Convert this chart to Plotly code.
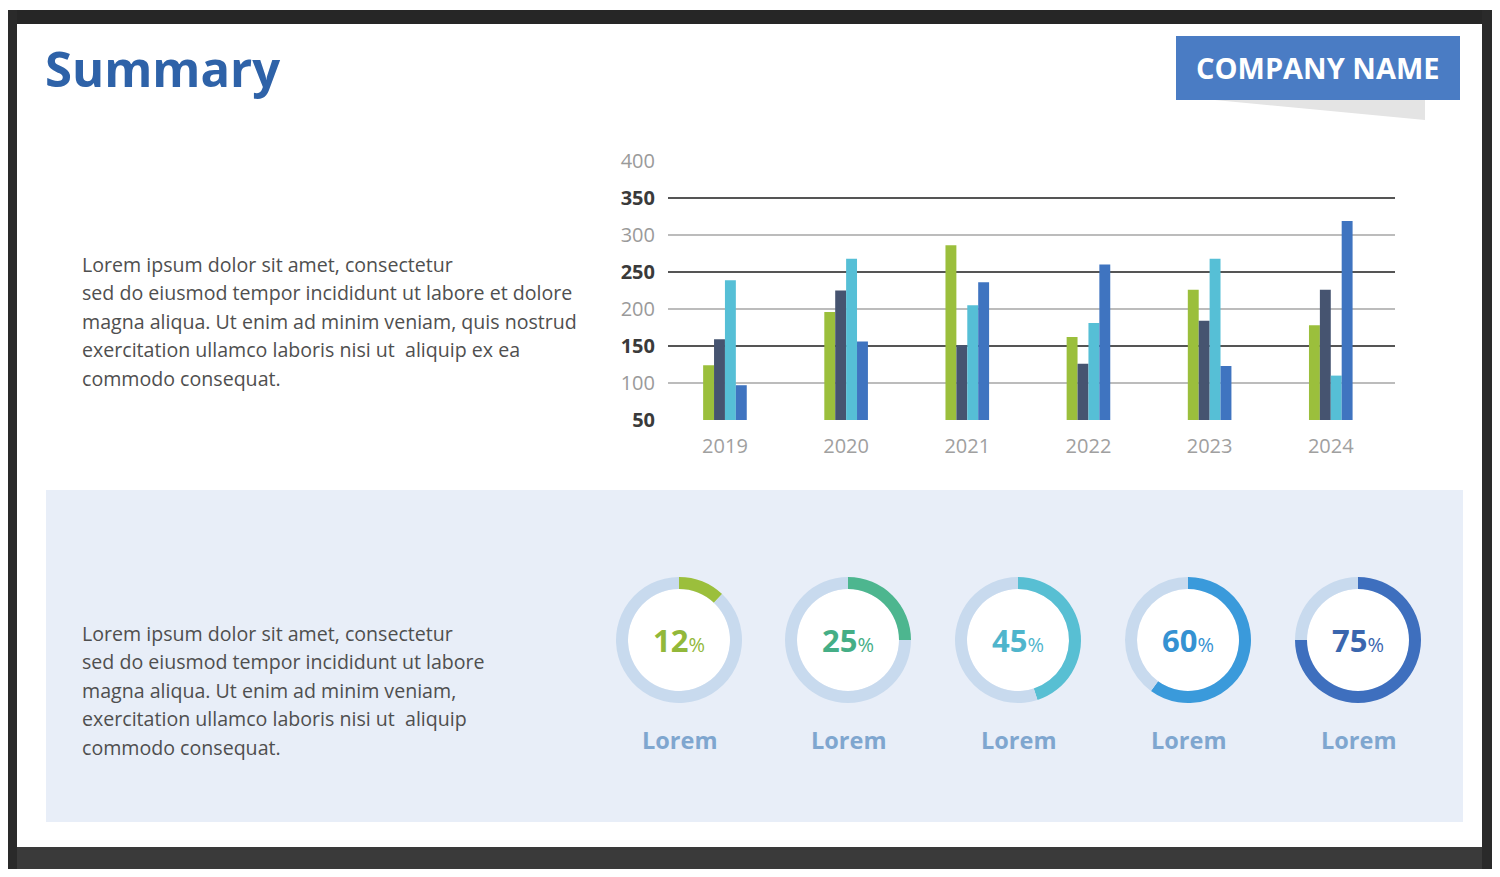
import plotly.graph_objects as go

# bar chart data
years = ["2019", "2020", "2021", "2022", "2023", "2024"]
series_a = [124, 196, 286, 162, 226, 178]   # green
series_b = [159, 225, 151, 126, 184, 226]   # dark slate
series_c = [239, 268, 205, 181, 268, 110]   # cyan
series_d = [97, 156, 236, 260, 123, 319]    # blue
ticks_light = [100, 200, 300, 400]
ticks_dark = [50, 150, 250, 350]

# donut data
pct_values = [12, 25, 45, 60, 75]
pct_labels = ["Lorem", "Lorem", "Lorem", "Lorem", "Lorem"]

paragraph_top = [
    "Lorem ipsum dolor sit amet, consectetur",
    "sed do eiusmod tempor incididunt ut labore et dolore",
    "magna aliqua. Ut enim ad minim veniam, quis nostrud",
    "exercitation ullamco laboris nisi ut  aliquip ex ea",
    "commodo consequat.",
]
paragraph_bottom = [
    "Lorem ipsum dolor sit amet, consectetur",
    "sed do eiusmod tempor incididunt ut labore",
    "magna aliqua. Ut enim ad minim veniam,",
    "exercitation ullamco laboris nisi ut  aliquip",
    "commodo consequat.",
]

# the page keeps its 8px body margin, so the figure is a bit smaller than the window
OFF = 8
W, H = 1500 - 2 * OFF, 877 - 2 * OFF
FONT = "Open Sans"


def px(x):
    return (x - OFF) / W


def py(y):
    return 1 - (y - OFF) / H


bar_colors = ["#9BBF3C", "#465470", "#56BFD6", "#3F74C0"]
donut_colors = ["#9BBF3C", "#4DB68F", "#58BFD3", "#3A9ADB", "#3E6FBE"]
text_colors = ["#92B83A", "#45AE86", "#4FB5CC", "#3592D2", "#3A66AE"]
ring_bg = "#C8DAEE"

fig = go.Figure()

for vals, col in zip([series_a, series_b, series_c, series_d], bar_colors):
    fig.add_trace(go.Bar(x=years, y=vals, marker=dict(color=col, line_width=0),
                         showlegend=False, hoverinfo="x+y"))

# invisible trace so the second y axis (dark grid lines) is drawn
fig.add_trace(go.Scatter(x=years, y=series_a, yaxis="y2", mode="none",
                         showlegend=False, hoverinfo="skip"))

# donuts: white disc underneath, ring on top
centers = [679, 848, 1018, 1188, 1358]
cy = 640
r_out, r_in = 63, 51
for i, (p, cx) in enumerate(zip(pct_values, centers)):
    fig.add_trace(go.Pie(
        values=[1], marker=dict(colors=["white"], line_width=0),
        domain=dict(x=[px(cx - r_in), px(cx + r_in)], y=[py(cy + r_in), py(cy - r_in)]),
        textinfo="none", hoverinfo="skip", sort=False, showlegend=False))
    fig.add_trace(go.Pie(
        values=[p, 100 - p], hole=r_in / r_out,
        marker=dict(colors=[donut_colors[i], ring_bg], line_width=0),
        domain=dict(x=[px(cx - r_out), px(cx + r_out)], y=[py(cy + r_out), py(cy - r_out)]),
        direction="clockwise", rotation=0, sort=False,
        textinfo="none", showlegend=False))
    fig.add_annotation(x=px(cx), y=py(cy), xanchor="center", yanchor="middle",
                       text=f"<b>{p}</b><span style='font-size:20px'>%</span>",
                       font=dict(family=FONT, size=31, color=text_colors[i]))
    fig.add_annotation(x=px(cx), y=py(740), xanchor="center", yanchor="middle",
                       text=f"<b>{pct_labels[i]}</b>",
                       font=dict(family=FONT, size=23.5, color="#7FA6CF"))

shapes = [
    # light blue panel
    dict(type="rect", x0=px(46), x1=px(1463), y0=py(822), y1=py(490),
         fillcolor="#E8EEF8", layer="below"),
    # company box shadow
    dict(type="path",
         path=f"M {px(1215)},{py(100)} L {px(1425)},{py(100)} L {px(1425)},{py(120)} Z",
         fillcolor="#E4E4E4", layer="below"),
    # company box
    dict(type="rect", x0=px(1176), x1=px(1460), y0=py(100), y1=py(36),
         fillcolor="#4A7CC4", layer="below"),
    # frame of the screen
    dict(type="rect", x0=px(3), x1=px(1498), y0=py(24), y1=py(10),
         fillcolor="#262626", layer="above"),
    dict(type="rect", x0=px(3), x1=px(1498), y0=py(871), y1=py(847),
         fillcolor="#3a3a3a", layer="above"),
    dict(type="rect", x0=px(3), x1=px(17), y0=py(871), y1=py(10),
         fillcolor="#2a2a2a", layer="above"),
    dict(type="rect", x0=px(1482), x1=px(1498), y0=py(871), y1=py(10),
         fillcolor="#2a2a2a", layer="above"),
]
for s in shapes:
    fig.add_shape(xref="paper", yref="paper", line_width=0, **s)

fig.add_annotation(x=px(43), y=py(68), xanchor="left", yanchor="middle",
                   text="<b>Summary</b>",
                   font=dict(family=FONT, size=49, color="#2E62A8"))
fig.add_annotation(x=px(1318), y=py(68), xanchor="center", yanchor="middle",
                   text="<b>COMPANY NAME</b>",
                   font=dict(family=FONT, size=29, color="white"))

for k, line in enumerate(paragraph_top):
    fig.add_annotation(x=px(80), y=py(264 + k * 28.5), xanchor="left", yanchor="middle",
                       text=line, font=dict(family=FONT, size=19.6, color="#4f4f4f"))
for k, line in enumerate(paragraph_bottom):
    fig.add_annotation(x=px(80), y=py(633 + k * 28.5), xanchor="left", yanchor="middle",
                       text=line, font=dict(family=FONT, size=19.6, color="#4f4f4f"))

fig.update_annotations(xref="paper", yref="paper", showarrow=False)

ydomain = [py(420), py(161)]
fig.update_layout(
    width=W, height=H,
    margin=dict(l=0, r=0, t=0, b=0, pad=0),
    paper_bgcolor="white", plot_bgcolor="rgba(0,0,0,0)",
    barmode="group", bargap=0.64, bargroupgap=0,
    font=dict(family=FONT),
    xaxis=dict(domain=[px(668), px(1395)], range=[-0.47, 5.53], type="category",
               showgrid=False, showline=False, zeroline=False, automargin=False,
               ticks="outside", ticklen=8, tickcolor="rgba(0,0,0,0)",
               tickfont=dict(size=20, color="#a0a0a0")),
    yaxis=dict(domain=ydomain, range=[50, 400], automargin=False,
               tickvals=ticks_light, gridcolor="#bcbcbc", gridwidth=1.5,
               zeroline=False, showline=False,
               ticks="outside", ticklen=8, tickcolor="rgba(0,0,0,0)",
               tickfont=dict(size=20, color="#9a9a9a")),
    yaxis2=dict(overlaying="y", side="left", range=[50, 400], automargin=False,
                tickvals=ticks_dark, ticktext=[f"<b>{v}</b>" for v in ticks_dark],
                gridcolor="#555555", gridwidth=2, zeroline=False, showline=False,
                ticks="outside", ticklen=8, tickcolor="rgba(0,0,0,0)",
                tickfont=dict(size=20, color="#3a3a3a")),
)

fig.write_html("out.html")
